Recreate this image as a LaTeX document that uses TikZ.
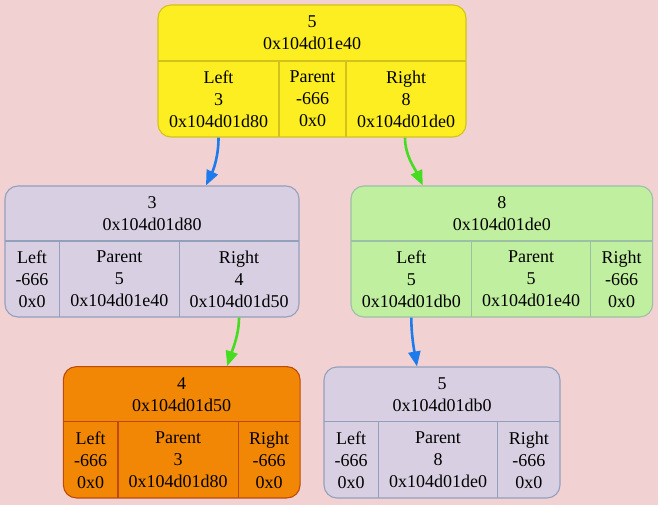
\documentclass[tikz,border=0pt]{standalone}
\usepackage{fontspec}
\setmainfont{Liberation Serif}
\usetikzlibrary{arrows.meta}
\definecolor{bg}{HTML}{F2D1D3}
\definecolor{yfill}{HTML}{FCEE21}
\definecolor{ydraw}{HTML}{D4C21C}
\definecolor{lfill}{HTML}{D8D0E2}
\definecolor{ldraw}{HTML}{93A0BC}
\definecolor{gfill}{HTML}{C1EFA0}
\definecolor{gdraw}{HTML}{9CC0A5}
\definecolor{ofill}{HTML}{F28705}
\definecolor{odraw}{HTML}{BC4A0A}
\definecolor{eblue}{HTML}{1E7BEB}
\definecolor{egreen}{HTML}{44DD1F}
\tikzset{
  rec/.style={rectangle, rounded corners=13pt, line width=1.1pt, inner sep=0pt},
  div/.style={line width=1.1pt},
  txt/.style={align=center, inner sep=0pt, font=\fontsize{18}{22}\selectfont},
  edge/.style={line width=2.6pt, -{Triangle[length=15pt,width=12pt]}},
}
\begin{document}
\begin{tikzpicture}[x=1pt,y=-1pt]
\fill[bg] (0,0) rectangle (658,505);
\useasboundingbox (0,0) rectangle (658,505);

% root node 5
\node[rec, fill=yfill, draw=ydraw, minimum width=308pt, minimum height=132pt] (root) at (312,71) {};
\draw[div, ydraw] (158,61) -- (466,61) (279,61) -- (279,137) (346,61) -- (346,137);
\node[txt] (rootT) at (312,33) {5\\0x104d01e40};
\node[txt] (rootL) at (218.5,99) {Left\\3\\0x104d01d80};
\node[txt] (rootP) at (312.5,99) {Parent\\-666\\0x0};
\node[txt] (rootR) at (406,99) {Right\\8\\0x104d01de0};

% node 3
\node[rec, fill=lfill, draw=ldraw, minimum width=294pt, minimum height=131pt] (n3) at (152,251.5) {};
\draw[div, ldraw] (5,241) -- (299,241) (59.3,241) -- (59.3,317) (179.3,241) -- (179.3,317);
\node[txt] (n3T) at (152,213.5) {3\\0x104d01d80};
\node[txt] (n3L) at (32,279) {Left\\-666\\0x0};
\node[txt] (n3P) at (119.3,279) {Parent\\5\\0x104d01e40};
\node[txt] (n3R) at (239,279) {Right\\4\\0x104d01d50};

% node 8
\node[rec, fill=gfill, draw=gdraw, minimum width=301.7pt, minimum height=131pt] (n8) at (501.8,251.5) {};
\draw[div, gdraw] (351,241) -- (652.7,241) (471.7,241) -- (471.7,317) (590.3,241) -- (590.3,317);
\node[txt] (n8T) at (501.8,213.5) {8\\0x104d01de0};
\node[txt] (n8L) at (411.3,279) {Left\\5\\0x104d01db0};
\node[txt] (n8P) at (531,279) {Parent\\5\\0x104d01e40};
\node[txt] (n8R) at (621.5,279) {Right\\-666\\0x0};

% node 4
\node[rec, fill=ofill, draw=odraw, minimum width=236.7pt, minimum height=131.3pt] (n4) at (181.7,432.3) {};
\draw[div, odraw] (63.3,421.7) -- (300,421.7) (118,421.7) -- (118,498) (238.3,421.7) -- (238.3,498);
\node[txt] (n4T) at (181.7,394.2) {4\\0x104d01d50};
\node[txt] (n4L) at (90.7,460) {Left\\-666\\0x0};
\node[txt] (n4P) at (178.2,460) {Parent\\3\\0x104d01d80};
\node[txt] (n4R) at (269.2,460) {Right\\-666\\0x0};

% node 5 (leaf)
\node[rec, fill=lfill, draw=ldraw, minimum width=236pt, minimum height=131pt] (n5) at (442,432.5) {};
\draw[div, ldraw] (324,421.7) -- (560,421.7) (378.3,421.7) -- (378.3,498) (497.7,421.7) -- (497.7,498);
\node[txt] (n5T) at (442,394.3) {5\\0x104d01db0};
\node[txt] (n5L) at (351.2,460) {Left\\-666\\0x0};
\node[txt] (n5P) at (438,460) {Parent\\8\\0x104d01de0};
\node[txt] (n5R) at (528.8,460) {Right\\-666\\0x0};

% edges (yshift is in page units: negative = downwards)
\draw[edge, eblue] (rootL |- root.south) .. controls ([yshift=-18pt]rootL |- root.south) and ([xshift=62pt,yshift=17pt]n3.north) .. ([xshift=54pt]n3.north);
\draw[edge, egreen] ([xshift=-1pt]rootR |- root.south) .. controls ([xshift=-1pt,yshift=-18pt]rootR |- root.south) and ([xshift=-87pt,yshift=17pt]n8.north) .. ([xshift=-79pt]n8.north);
\draw[edge, egreen] (n3R |- n3.south) .. controls ([yshift=-17pt]n3R |- n3.south) and ([xshift=51pt,yshift=17pt]n4.north) .. ([xshift=45.5pt]n4.north);
\draw[edge, eblue] (n8L |- n8.south) .. controls ([yshift=-17pt]n8L |- n8.south) and ([xshift=-28pt,yshift=17pt]n5.north) .. ([xshift=-25pt]n5.north);
\end{tikzpicture}
\end{document}
